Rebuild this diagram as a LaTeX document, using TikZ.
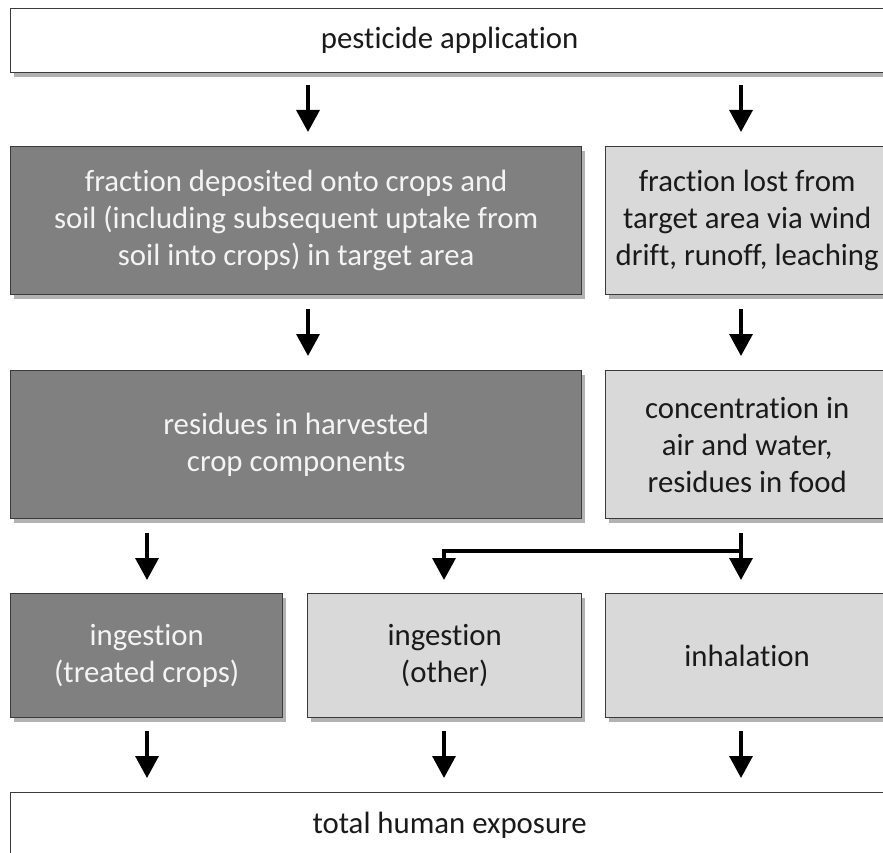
\documentclass[tikz,border=0pt]{standalone}
\usepackage{fontspec}
\setmainfont{Carlito}[Ligatures=NoCommon]
\usetikzlibrary{shadows,arrows.meta}
\definecolor{darkbox}{HTML}{808080}
\definecolor{lightbox}{HTML}{D9D9D9}
\definecolor{edgec}{HTML}{3A3A3A}
\definecolor{darktext}{HTML}{F4F4F4}
\definecolor{lighttext}{HTML}{1A1A1A}
\tikzset{
  box/.style={rectangle, anchor=north west, inner sep=0pt, draw=edgec, line width=1.4pt,
    align=center, font=\fontsize{30.8}{37}\selectfont,
    drop shadow={shadow xshift=3pt, shadow yshift=-4pt, fill=black, opacity=0.3}},
  whitebox/.style={box, fill=white, text=lighttext},
  darkb/.style={box, fill=darkbox, text=darktext},
  lightb/.style={box, fill=lightbox, text=lighttext},
  arr/.style={line width=3.4pt, -{Triangle[width=23pt,length=22pt]}, line join=miter},
}
\begin{document}
\begin{tikzpicture}[x=1pt,y=-1pt]
\useasboundingbox (0,0) rectangle (883,853);
\clip (0,0) rectangle (883,853);
% row 1
\node[whitebox, minimum width=878pt, minimum height=64pt] (top) at (10,8) {pesticide application};
% row 2
\node[darkb, minimum width=571pt, minimum height=148pt] (d2) at (10,146)
  {fraction deposited onto crops and\\soil (including subsequent uptake from\\soil into crops) in target area};
\node[lightb, minimum width=283pt, minimum height=148pt] (r2) at (605,146)
  {fraction lost from\\target area via wind\\drift, runoff, leaching};
% row 3
\node[darkb, minimum width=571pt, minimum height=148pt] (d3) at (10,370)
  {residues in harvested\\crop components};
\node[lightb, minimum width=283pt, minimum height=148pt] (r3) at (605,370)
  {concentration in\\air and water,\\residues in food};
% row 4
\node[darkb, minimum width=272pt, minimum height=124pt] (d4) at (10,593)
  {ingestion\\(treated crops)};
\node[lightb, minimum width=274pt, minimum height=124pt] (m4) at (307,593)
  {ingestion\\(other)};
\node[lightb, minimum width=283pt, minimum height=124pt] (r4) at (605,593)
  {inhalation};
% row 5
\node[whitebox, minimum width=878pt, minimum height=66pt] (bot) at (10,792) {total human exposure};
% arrows
\draw[arr, shorten <=12pt, shorten >=14pt] (top.south -| 308,0) -- (d2.north -| 308,0);
\draw[arr, shorten <=12pt, shorten >=14pt] (top.south -| 741,0) -- (r2.north -| 741,0);
\draw[arr, shorten <=14pt, shorten >=14pt] (d2.south -| 308,0) -- (d3.north -| 308,0);
\draw[arr, shorten <=14pt, shorten >=14pt] (r2.south -| 741,0) -- (r3.north -| 741,0);
\draw[arr, shorten <=14pt, shorten >=13pt] (d3.south -| 147,0) -- (d4.north -| 147,0);
\draw[arr, shorten <=14pt, shorten >=13pt] (r3.south -| 741,0) -- (r4.north -| 741,0);
\coordinate (br) at (741,551);
\draw[arr, shorten >=13pt] (br) -| (m4.north -| 444,0);
\draw[arr, shorten <=13pt, shorten >=14pt] (d4.south -| 147,0) -- (bot.north -| 147,0);
\draw[arr, shorten <=13pt, shorten >=14pt] (m4.south -| 444,0) -- (bot.north -| 444,0);
\draw[arr, shorten <=13pt, shorten >=14pt] (r4.south -| 741,0) -- (bot.north -| 741,0);
\end{tikzpicture}
\end{document}
